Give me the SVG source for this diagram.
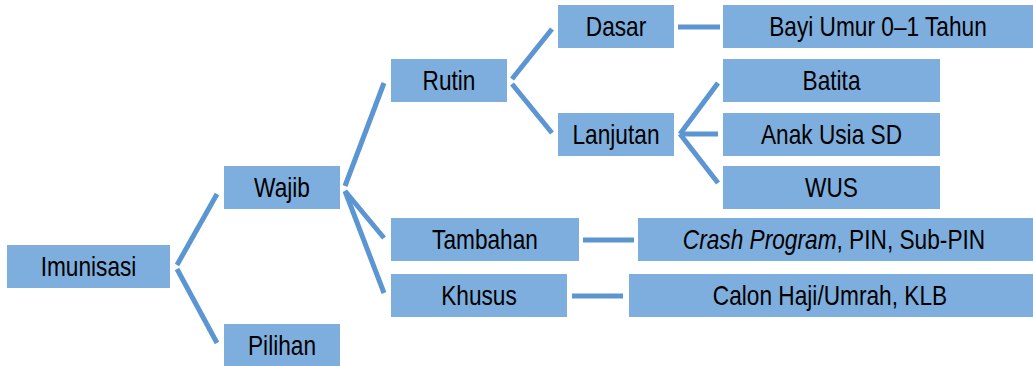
<svg xmlns="http://www.w3.org/2000/svg" width="1033" height="366" viewBox="0 0 1033 366">
<style>
.box{fill:#7EAEDD}
.t{font-family:"Liberation Sans",Arial,sans-serif;font-size:27px;fill:#000;text-anchor:middle}
.c line{stroke:#5B96D2;stroke-width:5;stroke-linecap:butt}
</style>
<rect width="1033" height="366" fill="#fff"/>
<g class="c" id="connectors">
<line x1="177" y1="265" x2="217" y2="194"/>
<line x1="177" y1="269" x2="217" y2="343"/>
<line x1="345" y1="186" x2="384" y2="83"/>
<line x1="345" y1="191" x2="384" y2="238"/>
<line x1="345" y1="191" x2="384" y2="293"/>
<line x1="512" y1="79" x2="552" y2="29"/>
<line x1="512" y1="84" x2="552" y2="133"/>
<line x1="678" y1="27" x2="720" y2="27"/>
<line x1="680" y1="134" x2="718" y2="83"/>
<line x1="680" y1="134" x2="718" y2="134"/>
<line x1="680" y1="134" x2="718" y2="183"/>
<line x1="583" y1="240" x2="634" y2="240"/>
<line x1="572" y1="296" x2="623" y2="296"/>
</g>
<g id="imunisasi"><rect class="box" x="7" y="245" width="163" height="43"/><text class="t" transform="translate(88.5,276) scale(0.84,1)">Imunisasi</text></g>
<g id="wajib"><rect class="box" x="224" y="166" width="116" height="43"/><text class="t" transform="translate(282,197) scale(0.84,1)">Wajib</text></g>
<g id="pilihan"><rect class="box" x="224" y="324" width="116" height="42"/><text class="t" transform="translate(282,354.5) scale(0.84,1)">Pilihan</text></g>
<g id="rutin"><rect class="box" x="391" y="59" width="116" height="43"/><text class="t" transform="translate(449,90) scale(0.84,1)">Rutin</text></g>
<g id="tambahan"><rect class="box" x="391" y="218" width="188" height="43"/><text class="t" transform="translate(485,249) scale(0.84,1)">Tambahan</text></g>
<g id="khusus"><rect class="box" x="391" y="274" width="176" height="43"/><text class="t" transform="translate(479,305) scale(0.84,1)">Khusus</text></g>
<g id="dasar"><rect class="box" x="558" y="5" width="116" height="43"/><text class="t" transform="translate(616,36) scale(0.84,1)">Dasar</text></g>
<g id="lanjutan"><rect class="box" x="558" y="113" width="116" height="43"/><text class="t" transform="translate(616,144) scale(0.84,1)">Lanjutan</text></g>
<g id="bayi"><rect class="box" x="723" y="5" width="310" height="43"/><text class="t" transform="translate(878,36) scale(0.84,1)">Bayi Umur 0–1 Tahun</text></g>
<g id="batita"><rect class="box" x="723" y="59" width="217" height="43"/><text class="t" transform="translate(831.5,90) scale(0.84,1)">Batita</text></g>
<g id="anak"><rect class="box" x="723" y="113" width="217" height="43"/><text class="t" transform="translate(831.5,144) scale(0.84,1)">Anak Usia SD</text></g>
<g id="wus"><rect class="box" x="723" y="166" width="217" height="43"/><text class="t" transform="translate(831.5,197) scale(0.84,1)">WUS</text></g>
<g id="crash"><rect class="box" x="638" y="218" width="395" height="43"/><text class="t" transform="translate(834,249) scale(0.84,1)"><tspan font-style="italic">Crash Program</tspan>, PIN, Sub-PIN</text></g>
<g id="calon"><rect class="box" x="629" y="274" width="404" height="43"/><text class="t" transform="translate(830,305) scale(0.84,1)">Calon Haji/Umrah, KLB</text></g>
</svg>
